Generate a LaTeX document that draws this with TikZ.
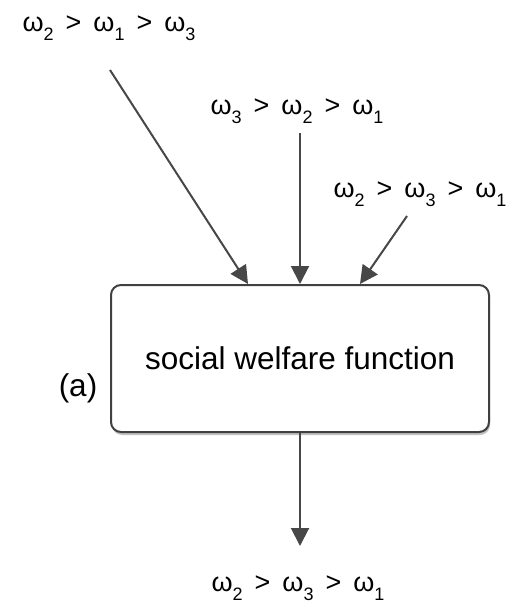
\documentclass[tikz,border=0pt]{standalone}
\usepackage{fontspec}
\setmainfont{Liberation Sans}
\usetikzlibrary{arrows.meta,shadows}

\tikzset{
  pref/.style={font=\fontsize{13.5}{15}\selectfont, inner sep=0pt},
  feed/.style={draw=black!72, line width=1pt, -{Triangle[length=9pt,width=9pt]}},
  swfbox/.style={draw=black!75, line width=1pt, rounded corners=5pt, fill=white,
    drop shadow={shadow xshift=0.5pt, shadow yshift=-1.5pt, fill=black!40, opacity=0.6},
    minimum width=189pt, minimum height=73.5pt, font=\fontsize{15.75}{18}\selectfont},
}
\newcommand{\om}[1]{ω\raisebox{-4.5pt}{\fontsize{9}{10}\selectfont #1}}

\begin{document}
\begin{tikzpicture}[x=0.5pt,y=-0.5pt]
    \useasboundingbox (0,0) rectangle (518,609);
    % the box
    \node[swfbox] (swf) at (300,358.5) {social welfare function};
    \node[font=\fontsize{15.75}{18}\selectfont] (lbl) at (78,388) {(a)};
    % individual preferences
    \node[pref] (p1) at (109,28) {\om{2} \,>\, \om{1} \,>\, \om{3}};
    \node[pref] (p2) at (297,111) {\om{3} \,>\, \om{2} \,>\, \om{1}};
    \node[pref] (p3) at (420,194) {\om{2} \,>\, \om{3} \,>\, \om{1}};
    \coordinate (s1) at (110,70);
    \coordinate (s2) at (300,133);
    \coordinate (s3) at (407,216);
    \draw[feed] (s1) -- ([xshift=-26pt]swf.north);
    \draw[feed] (s2) -- (swf.north);
    \draw[feed] (s3) -- ([xshift=30pt]swf.north);
    % social preference
    \node[pref] (res) at (298,588) {\om{2} \,>\, \om{3} \,>\, \om{1}};
    \coordinate (e) at (300,546);
    \draw[feed] (swf.south) -- (e);
\end{tikzpicture}
\end{document}
